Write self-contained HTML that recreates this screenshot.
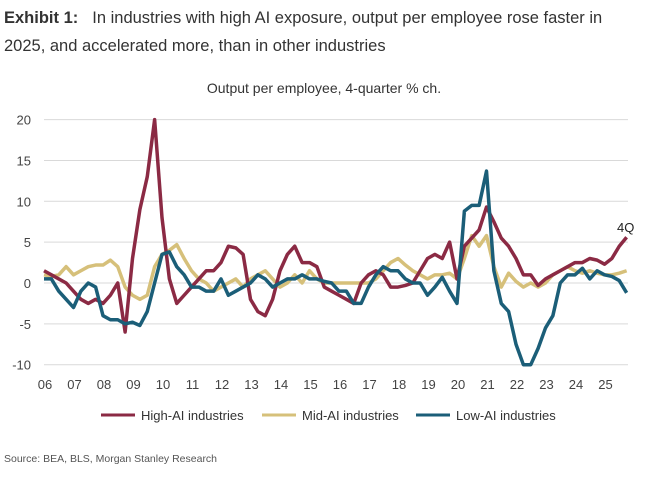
<!DOCTYPE html>
<html><head><meta charset="utf-8"><style>
body{margin:0;width:648px;height:477px;background:#fff;font-family:"Liberation Sans",sans-serif;overflow:hidden}
</style></head><body>
<svg width="648" height="477" style="position:absolute;left:0;top:0">
<text x="4" y="23" font-size="16.5" fill="#333"><tspan font-weight="bold">Exhibit 1:</tspan><tspan dx="14">In industries with high AI exposure, output per employee rose faster in</tspan></text>
<text x="4" y="51" font-size="16.5" fill="#333">2025, and accelerated more, than in other industries</text>
<text x="324" y="93" font-size="14" fill="#333" text-anchor="middle">Output per employee, 4-quarter % ch.</text>
<g id="grid"></g><g id="ylab"></g><g id="xlab"></g><g id="lines"></g>
<text x="617" y="232" font-size="13" fill="#222">4Q</text>
<g>
<line x1="101" y1="415" x2="135" y2="415" stroke="#8b2a44" stroke-width="3"/>
<text x="141" y="420" font-size="13" fill="#333">High-AI industries</text>
<line x1="262" y1="415" x2="296" y2="415" stroke="#d6c07a" stroke-width="3"/>
<text x="302" y="420" font-size="13" fill="#333">Mid-AI industries</text>
<line x1="416" y1="415" x2="450" y2="415" stroke="#1b5e78" stroke-width="3"/>
<text x="456" y="420" font-size="13" fill="#333">Low-AI industries</text>
</g>
<text x="4" y="462" font-size="10.5" fill="#555">Source: BEA, BLS, Morgan Stanley Research</text>
</svg>
<script>
const years=["06","07","08","09","10","11","12","13","14","15","16","17","18","19","20","21","22","23","24","25"];
const yTicks=[20,15,10,5,0,-5,-10];
const highAI=[1.5,1,0.5,0,-1,-2,-2.5,-2,-2.5,-1.5,0,-6,3,9,13,20,8,0.5,-2.5,-1.5,-0.5,0.5,1.5,1.5,2.5,4.5,4.3,3.5,-2,-3.5,-4,-2,1.5,3.5,4.5,2.5,2.5,2,-0.5,-1,-1.5,-2,-2.5,0,1,1.5,1,-0.5,-0.5,-0.3,0,1.5,3,3.5,3,5,0.5,4.5,5.5,6.5,9.3,7.5,5.5,4.5,3,1,1,-0.3,0.5,1,1.5,2,2.5,2.5,3,2.8,2.3,3,4.5,5.6];
const midAI=[1,0.8,1,2,1,1.5,2,2.2,2.2,2.8,2,-0.5,-1.5,-2,-1.5,2,3.5,4,4.7,3,1.5,0.5,0,-1,-0.5,0,0.5,-0.5,0.5,1,1.5,0.5,-0.5,0,1,0,1.5,0.5,0,0,0,0,0,0,0,0.5,1.5,2.5,3,2.2,1.5,1,0.5,1,1,1.2,0.5,3,5.8,4.5,5.8,2,-0.5,1.2,0.2,-0.5,0,-0.5,0,1,1.5,2,1.5,1.2,1.5,1.2,1,1,1.2,1.5];
const lowAI=[0.5,0.5,-1,-2,-3,-1,0,-0.5,-4,-4.5,-4.5,-5,-4.8,-5.2,-3.5,0,3.5,3.8,2,1,-0.5,-0.5,-1,-1,0.5,-1.5,-1,-0.5,0,1,0.5,-0.5,0,0.5,0.5,1,0.5,0.5,0.2,0,-1,-1,-2.5,-2.5,-0.5,1,2,1.5,1.5,0.5,0,0,-1.5,-0.5,0.7,-1,-2.5,8.8,9.5,9.5,13.7,1.5,-2.5,-3.5,-7.5,-10,-10,-8,-5.5,-4,0,1,1,1.8,0.5,1.5,1,0.8,0.3,-1.2];
const NS="http://www.w3.org/2000/svg";
const x0=44,yearW=29.5,y0=283,pu=8.17;
const X=i=>x0+i*yearW/4, Y=v=>y0-v*pu;
function mk(t,a,p){const e=document.createElementNS(NS,t);for(const k in a)e.setAttribute(k,a[k]);p.appendChild(e);return e;}
const g=document.getElementById('grid'),yl=document.getElementById('ylab'),xl=document.getElementById('xlab'),ln=document.getElementById('lines');
yTicks.forEach(v=>{
 const l=mk('line',{x1:x0,x2:628,y1:Y(v),y2:Y(v),stroke:'#d9d9d9','stroke-width':1},g);
 
 
 const t=mk('text',{x:31,y:Y(v)+5,'font-size':13,fill:'#444','text-anchor':'end'},yl);
 t.textContent=v;
 
 
});
years.forEach((yr,i)=>{
 const t=mk('text',{x:X(i*4)+1,y:389,'font-size':13,fill:'#444','text-anchor':'middle'},xl);
 t.textContent=yr;
 
 
});
[[midAI,'#d6c07a','mid-ai-line'],[highAI,'#8b2a44','high-ai-line'],[lowAI,'#1b5e78','low-ai-line']].forEach(([d,c,n])=>{
 const p=mk('polyline',{points:d.map((v,i)=>X(i)+','+Y(v)).join(' '),fill:'none',stroke:c,'stroke-width':3.5,'stroke-linejoin':'round'},ln);
 
 
});
</script>
</body></html>
